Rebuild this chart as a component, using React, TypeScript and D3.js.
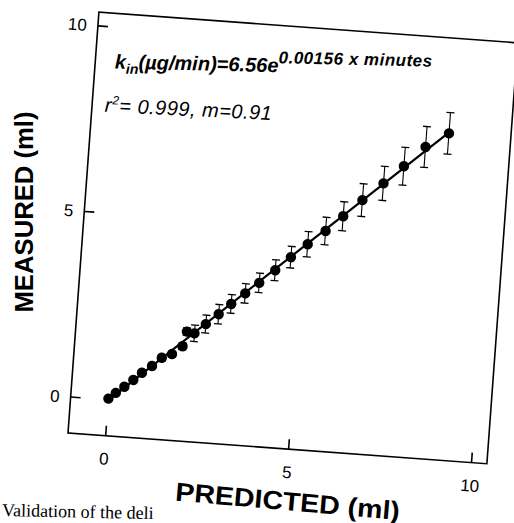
import React from "react";
import * as d3 from "d3";

// values (ml)
const predicted = [0.0, 0.19, 0.41, 0.64, 0.86, 1.12, 1.37, 1.64, 1.91, 2.0, 2.21, 2.5, 2.83, 3.15, 3.51, 3.87, 4.28, 4.68, 5.11, 5.57, 6.02, 6.51, 7.05, 7.57, 8.12, 8.73];
const measured = [0.03, 0.2, 0.38, 0.58, 0.79, 0.99, 1.23, 1.35, 1.58, 1.98, 1.95, 2.22, 2.51, 2.81, 3.12, 3.43, 3.8, 4.18, 4.56, 4.95, 5.38, 5.85, 6.34, 6.84, 7.4, 7.81];
const errors = [0.04, 0.05, 0.05, 0.06, 0.06, 0.07, 0.08, 0.08, 0.09, 0.1, 0.22, 0.24, 0.26, 0.25, 0.26, 0.26, 0.28, 0.29, 0.34, 0.37, 0.39, 0.44, 0.46, 0.51, 0.55, 0.56];
const xTicks = [0, 5, 10];
const yTicks = [0, 5, 10];

const sans = "'Liberation Sans', Arial, Helvetica, sans-serif";

export default function App() {
  const width = 514;
  const height = 523;
  const plotW = 420;
  const plotH = 422;

  const x = d3.scaleLinear().domain([-1.03, 10.42]).range([0, plotW]);
  const y = d3.scaleLinear().domain([-0.97, 10.37]).range([plotH, 0]);

  const points = predicted.map((p, i) => ({ p, m: measured[i], e: errors[i] }));

  // least squares line through the points
  const mx = d3.mean(predicted) as number;
  const my = d3.mean(measured) as number;
  const slope = d3.sum(points, (d) => (d.p - mx) * (d.m - my)) / d3.sum(points, (d) => (d.p - mx) ** 2);
  const icpt = my - slope * mx;
  const fit = d3
    .line<number>()
    .x((d) => x(d))
    .y((d) => y(slope * d + icpt));
  const ext = d3.extent(predicted) as [number, number];

  return (
    <svg
      width={width}
      height={height}
      style={{ position: "absolute", left: 0, top: 0, background: "#fff" }}
    >
      {/* the scanned page is tilted a few degrees */}
      <g transform={`translate(68,433) rotate(4.2) translate(0,${-plotH})`}>
        <rect x={0} y={0} width={plotW} height={plotH} fill="none" stroke="#000" strokeWidth={1.6} />

        {yTicks.map((t) => (
          <g key={"y" + t}>
            <line x1={0} x2={10} y1={y(t)} y2={y(t)} stroke="#000" strokeWidth={1.6} />
            <text x={-11} y={y(t)} dy="0.35em" textAnchor="end" fontFamily={sans} fontSize={17}>
              {t}
            </text>
          </g>
        ))}
        {xTicks.map((t) => (
          <g key={"x" + t}>
            <line x1={x(t)} x2={x(t)} y1={plotH} y2={plotH - 10} stroke="#000" strokeWidth={1.6} />
            <text x={x(t)} y={plotH + 29} textAnchor="middle" fontFamily={sans} fontSize={17}>
              {t}
            </text>
          </g>
        ))}

        <path d={fit(ext) as string} fill="none" stroke="#000" strokeWidth={2.2} />

        {points.map((d, i) => (
          <g key={i}>
            <line x1={x(d.p)} x2={x(d.p)} y1={y(d.m - d.e)} y2={y(d.m + d.e)} stroke="#000" strokeWidth={1.1} />
            <line x1={x(d.p) - 4} x2={x(d.p) + 4} y1={y(d.m + d.e)} y2={y(d.m + d.e)} stroke="#000" strokeWidth={1.3} />
            <line x1={x(d.p) - 4} x2={x(d.p) + 4} y1={y(d.m - d.e)} y2={y(d.m - d.e)} stroke="#000" strokeWidth={1.3} />
            <circle cx={x(d.p)} cy={y(d.m)} r={5.2} fill="#000" />
          </g>
        ))}

        <text
          transform="translate(20,55) rotate(-2.9)"
          fontFamily={sans}
          fontSize={20}
          fontWeight="bold"
          fontStyle="italic"
        >
          k
          <tspan fontSize={14} dy={5}>in</tspan>
          <tspan dy={-5}>(µg/min)=6.56e</tspan>
          <tspan fontSize={17} dy={-9} letterSpacing={0.5}>0.00156 x minutes</tspan>
        </text>
        <text
          transform="translate(13,99) rotate(-1.4)"
          fontFamily={sans}
          fontSize={20}
          fontStyle="italic"
          letterSpacing={0.5}
        >
          r<tspan fontSize={12} dy={-8}>2</tspan>
          <tspan dy={8}>= 0.999, m=0.91</tspan>
        </text>

        <text
          x={224}
          y={plotH + 61}
          textAnchor="middle"
          fontFamily={sans}
          fontSize={26}
          fontWeight="bold"
          textLength={225}
          lengthAdjust="spacingAndGlyphs"
          transform={`rotate(0.8,224,${plotH + 61})`}
        >
          PREDICTED (ml)
        </text>
      </g>

      <text
        transform="translate(33,212) rotate(-90)"
        textAnchor="middle"
        fontFamily={sans}
        fontSize={25}
        fontWeight="bold"
        textLength={201}
        lengthAdjust="spacingAndGlyphs"
      >
        MEASURED (ml)
      </text>

      <text
        transform="translate(2,516) rotate(1.2)"
        fontFamily="'Liberation Serif', 'Times New Roman', serif"
        fontSize={18}
      >
        Validation of the deli
      </text>
    </svg>
  );
}
